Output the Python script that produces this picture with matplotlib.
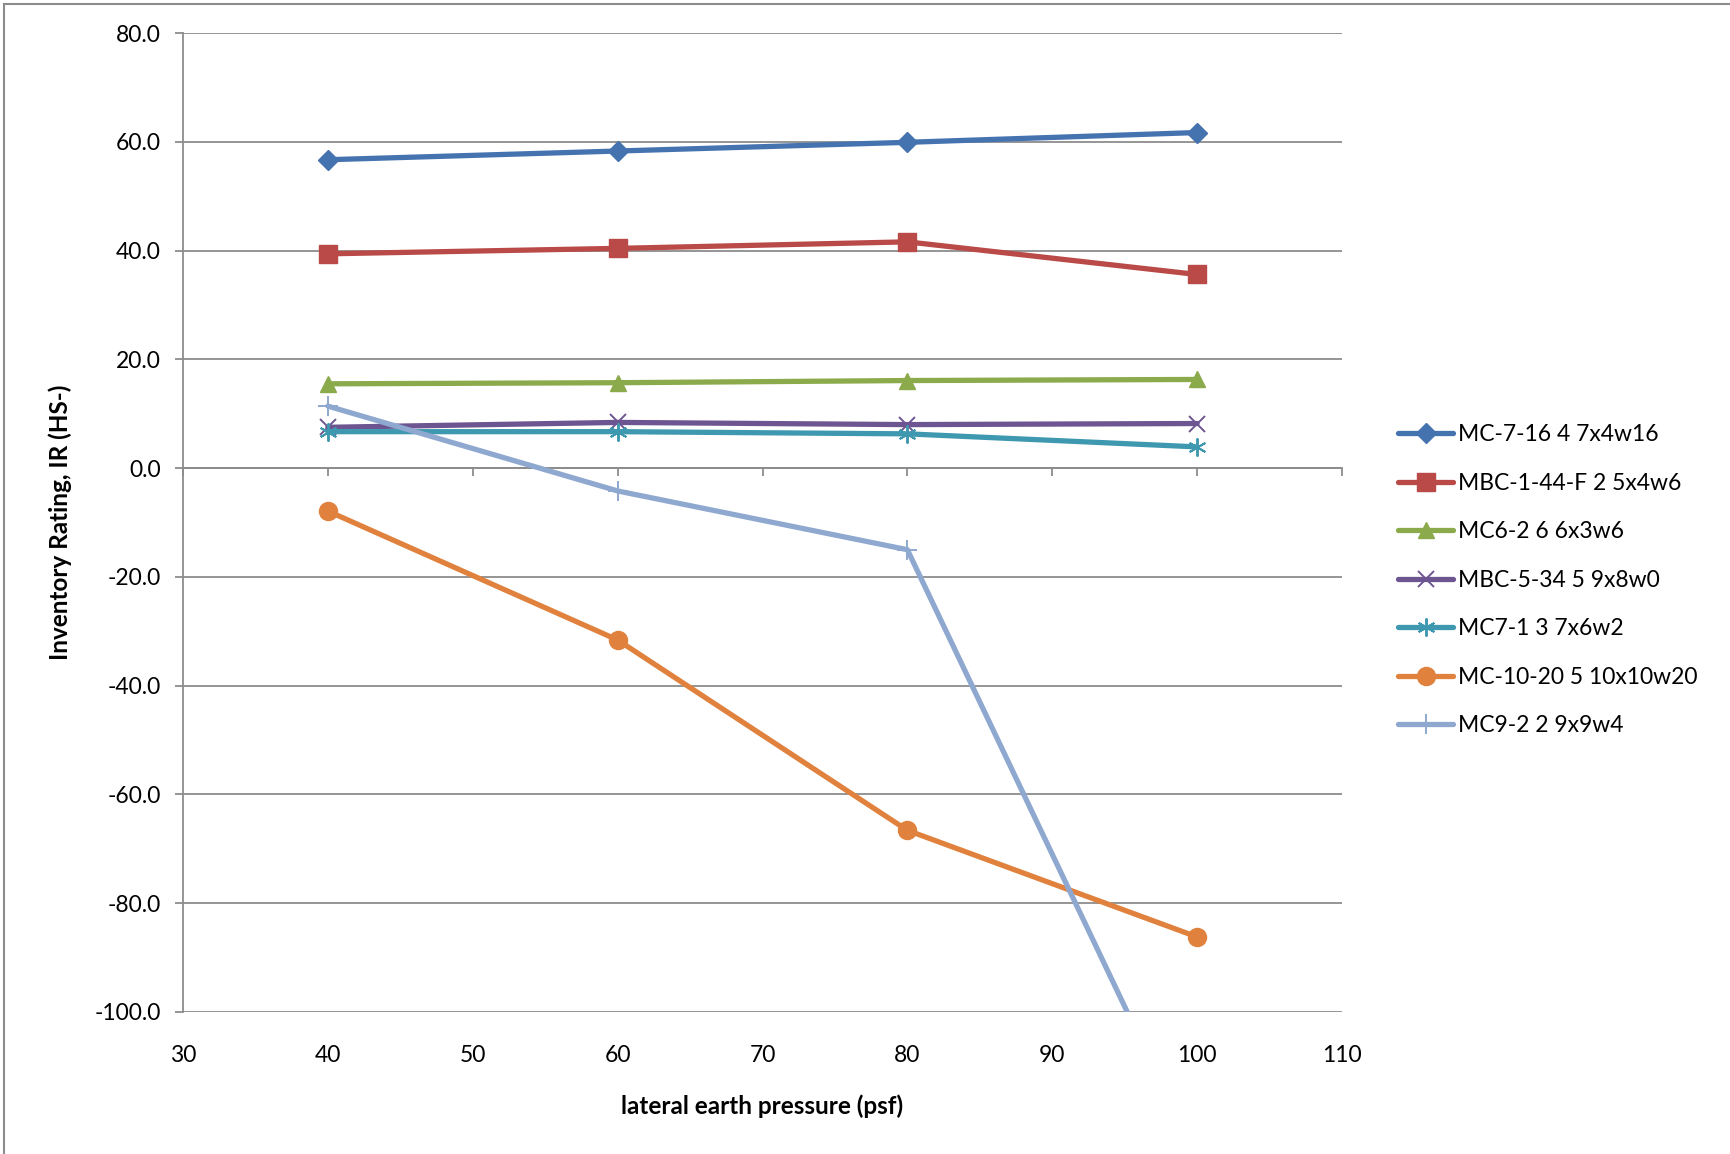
import numpy as np
import matplotlib
matplotlib.use("Agg")
import matplotlib.pyplot as plt
from matplotlib.patches import Rectangle

plt.rcParams['font.family'] = ['Lato', 'DejaVu Sans']

# data
pressure = [40, 60, 80, 100]
names = ["MC-7-16 4 7x4w16", "MBC-1-44-F 2 5x4w6", "MC6-2 6 6x3w6", "MBC-5-34 5 9x8w0",
         "MC7-1 3 7x6w2", "MC-10-20 5 10x10w20", "MC9-2 2 9x9w4"]
mc7_16 = [56.7, 58.3, 59.9, 61.7]
mbc1_44 = [39.4, 40.4, 41.6, 35.6]
mc6_2 = [15.5, 15.7, 16.1, 16.3]
mbc5_34 = [7.5, 8.4, 8.0, 8.2]
mc7_1 = [6.7, 6.7, 6.3, 3.9]
mc10_20 = [-7.9, -31.6, -66.6, -86.2]
mc9_2 = [11.4, -4.2, -15.0, -127.0]
series = [mc7_16, mbc1_44, mc6_2, mbc5_34, mc7_1, mc10_20, mc9_2]

colors = ['#4573AF', '#B94A47', '#8BAA4B', '#6D5591', '#3E98B0', '#E0823D', '#8EA8CF']
markers = ['D', 's', '^', 'x', (6, 2, 0), 'o', '+']
msizes = [10, 13, 12, 12, 13, 13, 15]

fig = plt.figure(figsize=(17.3, 11.54), dpi=100)
ax = fig.add_axes([183/1730, 1 - 1012/1154, (1342-183)/1730, (1012-33)/1154])

for y, c, m, ms, lab in zip(series, colors, markers, msizes, names):
    thin = m in ('x', '+') or isinstance(m, tuple)
    ax.plot(pressure, y, color=c, lw=3.8, marker=m, markersize=ms,
            markeredgewidth=1.4 if thin else 1, markeredgecolor=c, label=lab,
            solid_capstyle='round', clip_on=True)

ax.set_xlim(30, 110)
ax.set_ylim(-100, 80)
ax.set_xticks(np.arange(30, 111, 10))
ax.set_yticks(np.arange(-100, 81, 20))
ax.set_yticklabels([f"{v:.1f}" for v in np.arange(-100, 81, 20)])
ax.yaxis.grid(True, color='#8C8C8C', lw=1.3)
ax.set_axisbelow(True)

for s in ['top', 'right', 'bottom']:
    ax.spines[s].set_visible(False)
ax.spines['left'].set_color('#8C8C8C')
ax.spines['left'].set_linewidth(1.3)
ax.tick_params(axis='y', direction='out', length=6, width=1.3, color='#8C8C8C',
               labelsize=16.5, pad=10)
ax.tick_params(axis='x', length=0, labelsize=16.5, pad=24)

# x axis line crossing at y=0 with tick marks
sec = ax.secondary_xaxis(0, transform=ax.transData)
sec.spines['bottom'].set_color('#8C8C8C')
sec.spines['bottom'].set_linewidth(1.3)
sec.set_xticks(np.arange(30, 111, 10))
sec.tick_params(axis='x', direction='out', length=6, width=1.3, color='#8C8C8C',
                labelbottom=False)

ax.set_xlabel("lateral earth pressure (psf)", fontsize=17.5, fontweight='bold', labelpad=20)
ax.set_ylabel("Inventory Rating, IR (HS-)", fontsize=17.5, fontweight='bold', labelpad=16)

leg = ax.legend(loc='center left', bbox_to_anchor=(1398/1730, 0.497),
                bbox_transform=fig.transFigure, frameon=False, fontsize=16.5,
                handlelength=2.4, handletextpad=0.2, labelspacing=1.2,
                borderpad=0, borderaxespad=0)

# outer chart border
fig.patches.append(Rectangle((4/1730, -0.01), 1.02, 1 - 4/1154 + 0.01,
                             transform=fig.transFigure, fill=False,
                             edgecolor='#8C8C8C', lw=1.5))

fig.savefig("out.png", dpi=100)
